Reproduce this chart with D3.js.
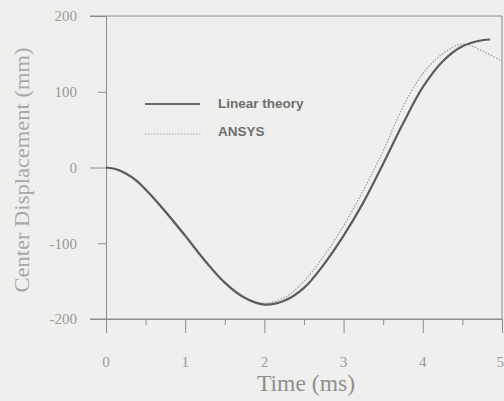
<!DOCTYPE html>
<html>
<head>
<meta charset="utf-8">
<script src="https://cdn.jsdelivr.net/npm/d3@7"></script>
<style>
  body { margin: 0; background: #efefed; }
  svg { display: block; }
</style>
</head>
<body>
<svg id="chart" width="504" height="401"></svg>
<script>
// values
var timeLinear = [0, 0.12, 0.25, 0.38, 0.5, 0.75, 1.0, 1.25, 1.5, 1.75, 2.0, 2.25, 2.5, 2.75, 3.0, 3.25, 3.5, 3.75, 4.0, 4.25, 4.5, 4.75, 4.85];
var linearTheory = [0, -2, -8, -17, -29, -58, -90, -123, -152, -172, -181, -176, -159, -128, -90, -46, 5, 58, 106, 140, 160, 168, 169];

var timeAnsys = [0, 0.12, 0.25, 0.38, 0.5, 0.75, 1.0, 1.25, 1.5, 1.75, 2.0, 2.25, 2.5, 2.75, 3.0, 3.25, 3.5, 3.75, 4.0, 4.25, 4.5, 4.75, 5.0];
var ansys = [0, -2, -8, -18, -30, -60, -92, -125, -153, -172, -179, -172, -150, -117, -77, -30, 22, 80, 124, 150, 163, 154, 140];

var xMajor = [0, 1, 2, 3, 4, 5];
var xMinor = [0.5, 1.5, 2.5, 3.5, 4.5];
var yMajor = [-200, 0, 200];
var yMinor = [-100, 100];
var yLabels = [-200, -100, 0, 100, 200];

var seriesNames = ["Linear theory", "ANSYS"];

var svg = d3.select("svg#chart"),
    margin = {top: 16, left: 106, bottom: 82, right: 2},
    width = 504 - margin.left - margin.right,
    height = 401 - margin.top - margin.bottom;

var x = d3.scaleLinear()
    .domain([0, 5])
    .range([margin.left, margin.left + width]);

var y = d3.scaleLinear()
    .domain([-200, 200])
    .range([margin.top + height, margin.top]);

var axisColor = "#8c8c8c";
var labelColor = "#9a9a9a";

// frame: top and right borders
svg.append("line")
    .attr("x1", margin.left - 16).attr("x2", x(5))
    .attr("y1", y(200)).attr("y2", y(200))
    .attr("stroke", axisColor);
svg.append("line")
    .attr("x1", x(5)).attr("x2", x(5))
    .attr("y1", y(200)).attr("y2", y(-200))
    .attr("stroke", axisColor);

// x axis, major and minor ticks
var xAxis = svg.append("g")
    .attr("transform", translate(0, y(-200)))
    .call(d3.axisBottom(x).tickValues(xMajor).tickSize(14).tickFormat(""));
var xAxisMinor = svg.append("g")
    .attr("transform", translate(0, y(-200)))
    .call(d3.axisBottom(x).tickValues(xMinor).tickSize(6).tickFormat(""));

svg.append("line")
    .attr("x1", margin.left - 16).attr("x2", x(5))
    .attr("y1", y(-200)).attr("y2", y(-200))
    .attr("stroke", axisColor);

// last label sits on the page edge, so anchor it to the right
svg.selectAll(".xlabel")
    .data(xMajor)
  .enter().append("text")
    .attr("class", "xlabel")
    .attr("x", d => d == 5 ? 504 : x(d))
    .attr("y", 367)
    .attr("text-anchor", d => d == 5 ? "end" : "middle")
    .text(d => d);

// y axis
var yAxis = svg.append("g")
    .attr("transform", translate(margin.left, 0))
    .call(d3.axisLeft(y).tickValues(yMajor).tickSize(16).tickFormat(""));
var yAxisMinor = svg.append("g")
    .attr("transform", translate(margin.left, 0))
    .call(d3.axisLeft(y).tickValues(yMinor).tickSize(8).tickFormat(""));

svg.selectAll(".ylabel")
    .data(yLabels)
  .enter().append("text")
    .attr("class", "ylabel")
    .attr("x", 77)
    .attr("y", d => y(d))
    .attr("dy", "0.36em")
    .attr("text-anchor", "end")
    .text(d => d);

svg.selectAll("g .domain, g .tick line")
    .attr("stroke", axisColor);
svg.selectAll(".xlabel, .ylabel")
    .attr("fill", labelColor)
    .attr("font-family", "Liberation Serif, serif")
    .attr("font-size", 15);

// titles
svg.append("text")
    .attr("transform", translate(306, 391))
    .attr("text-anchor", "middle")
    .attr("font-family", "Liberation Serif, serif")
    .attr("font-size", 24)
    .attr("fill", "#8f8f8f")
    .attr("textLength", 98)
    .attr("lengthAdjust", "spacingAndGlyphs")
    .text("Time (ms)");

svg.append("text")
    .attr("transform", translate(29, 170) + " rotate(-90)")
    .attr("text-anchor", "middle")
    .attr("font-family", "Liberation Serif, serif")
    .attr("font-size", 22)
    .attr("fill", "#a8a8a8")
    .attr("textLength", 245)
    .attr("lengthAdjust", "spacingAndGlyphs")
    .text("Center Displacement (mm)");

// curves
var line = d3.line()
    .x(d => x(d[0]))
    .y(d => y(d[1]))
    .curve(d3.curveCatmullRom.alpha(0.5));

svg.append("path")
    .datum(d3.zip(timeAnsys, ansys))
    .attr("fill", "none")
    .attr("stroke", "#9a9a9a")
    .attr("stroke-width", 1.2)
    .attr("stroke-dasharray", "1.5,1.5")
    .attr("d", line);

svg.append("path")
    .datum(d3.zip(timeLinear, linearTheory))
    .attr("fill", "none")
    .attr("stroke", "#5a5d5c")
    .attr("stroke-width", 2.2)
    .attr("d", line);

// legend
var legend = svg.append("g").attr("class", "legend");
legend.append("line")
    .attr("x1", 145).attr("x2", 200).attr("y1", 104).attr("y2", 104)
    .attr("stroke", "#6a6a6a").attr("stroke-width", 2);
legend.append("line")
    .attr("x1", 145).attr("x2", 202).attr("y1", 134).attr("y2", 134)
    .attr("stroke", "#aaaaaa").attr("stroke-width", 1.2)
    .attr("stroke-dasharray", "1.5,1.5");
legend.selectAll("text")
    .data(seriesNames)
  .enter().append("text")
    .attr("x", 218)
    .attr("y", (d, i) => 108 + i * 28)
    .attr("font-family", "Liberation Sans, Arial, sans-serif")
    .attr("font-weight", "bold")
    .attr("font-size", 13.5)
    .attr("fill", "#6e6e6e")
    .text(d => d);

/*
 * returns a translate string for the transform attribute
 */
function translate(x, y) {
  return 'translate(' + String(x) + ',' + String(y) + ')';
}
</script>
</body>
</html>
